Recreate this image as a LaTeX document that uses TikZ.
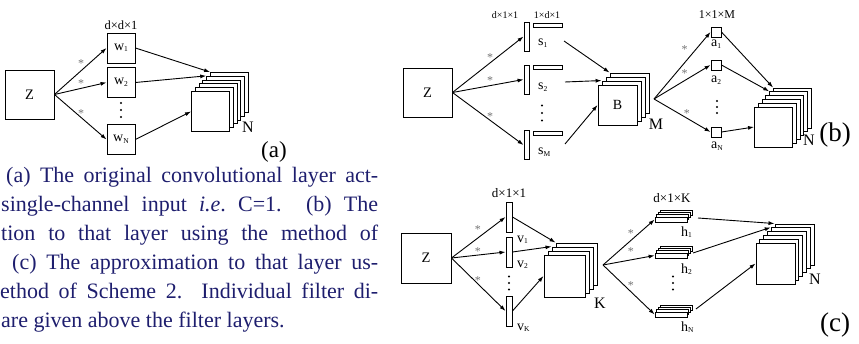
\documentclass[tikz,border=0pt]{standalone}
\usepackage{fontspec}
\setmainfont{Liberation Serif}
\usepackage{tikz}
\usetikzlibrary{arrows.meta,positioning,calc}
\definecolor{capblue}{RGB}{30,30,110}
\newcommand{\filtname}[2]{#1\raisebox{-1.5pt}{\fontsize{7.5}{7.5}\selectfont #2}}

\begin{document}
\begin{tikzpicture}[x=1pt,y=-1pt,
  every node/.style={inner sep=0pt},
  >={Latex[length=6pt,width=4pt]},
  box/.style={draw,line width=0.9pt,minimum width=49pt,minimum height=49pt,font=\fontsize{14.5}{14.5}\selectfont},
  layer/.style={draw,line width=0.9pt,fill=white,minimum width=38pt,minimum height=40pt},
  filt/.style={draw,line width=0.9pt,minimum width=28pt,minimum height=30pt,font=\fontsize{14}{14}\selectfont},
  vbar/.style={draw,line width=0.9pt,minimum width=5pt,minimum height=29pt},
  hbar/.style={draw,line width=0.9pt,minimum width=29pt,minimum height=4pt},
  tap/.style={draw,line width=0.9pt,minimum width=10pt,minimum height=10pt},
  flat/.style={draw,line width=0.7pt,fill=white,minimum width=32pt,minimum height=5pt},
  dimlab/.style={font=\fontsize{12.5}{12.5}\selectfont},
  lab/.style={font=\fontsize{14}{14}\selectfont,anchor=west},
  cnt/.style={font=\fontsize{16}{16}\selectfont},
  conv/.style={font=\fontsize{12}{12}\selectfont,text=black!55},
  panel/.style={font=\fontsize{27}{27}\selectfont},
  caption/.style={font=\fontsize{22}{26}\selectfont,text=capblue,anchor=base west},
  wire/.style={->,line width=0.9pt}]
\useasboundingbox (0,0) rectangle (859,344);

% (a) original layer
\node[box] (za) at (29.5,94.5) {Z};
\foreach \n/\y in {1/48, 2/82.5, N/139.5}
  \node[filt] (wa\n) at (121,\y) {\filtname{w}{\n}};
\node[dimlab] (da) at (121,25) {d×d×1};
\coordinate (dta) at (121,110);
\foreach \d in {-7,0,7} \fill (dta) ++(0,\d) circle (1.1);
\foreach \i in {5,...,0}
  \node[layer] (na-\i) at (210.5+3.8*\i,111.5-3.8*\i) {};
\node[cnt] (nla) at (248,127) {N};
\node[panel,font=\fontsize{23}{23}\selectfont] (pa) at (274,152) {(a)};
\draw[wire] (za.east) -- node[conv,pos=.51,above=3pt] (ca1) {*} (wa1.west);
\draw[wire] (za.east) -- node[conv,pos=.51,above=0.7pt] (ca2) {*} (wa2.west);
\draw[wire] (za.east) -- node[conv,pos=.51,above=-1pt] (ca3) {*} (waN.west);
\draw[wire] (wa1.east) -- (na-5.north west);
\draw[wire] (wa2.east) -- (na-4.north west);
\draw[wire] (waN.east) -- (na-0.west);

% (b) scheme 1
\node[box] (zb) at (427.5,92.5) {Z};
\foreach \n/\y in {1/36.5, 2/79.5, M/145}
  \node[vbar] (vb\n) at (526.5,\y) {};
\foreach \n/\y in {1/25, 2/67.5, M/133}
  \node[hbar] (hb\n) at (547.5,\y) {};
\foreach \n/\y in {1/43, 2/87, M/152}
  \node[lab] (sb\n) at (538,\y) {\filtname{s}{\n}};
\node[dimlab,font=\fontsize{10}{10}\selectfont] (db1) at (505,15) {d×1×1};
\node[dimlab,font=\fontsize{10}{10}\selectfont] (db2) at (547,15) {1×d×1};
\node[dimlab,font=\fontsize{12}{12}\selectfont] (db3) at (717,15) {1×1×M};
\coordinate (dtb1) at (542,113);
\foreach \d in {-7.5,0,7.5} \fill (dtb1) ++(0,\d) circle (1.1);
\foreach \i in {3,...,0}
  \node[layer,minimum width=39pt] (bb-\i) at (617.5+4*\i,105-4*\i) {};
\node[font=\fontsize{14}{14}\selectfont] (bt) at (bb-0.center) {B};
\node[cnt] (mlb) at (656,124) {M};
\foreach \n/\y in {1/32, 2/65, N/132}
  \node[tap] (ab\n) at (716,\y) {};
\foreach \n/\y in {1/44, 2/80, N/146}
  \node[lab] (al\n) at (711,\y) {\filtname{a}{\n}};
\coordinate (dtb2) at (717,107);
\foreach \d in {-6,0,6} \fill (dtb2) ++(0,\d) circle (1.1);
\foreach \i in {5,...,0}
  \node[layer] (nb-\i) at (773.5+3.8*\i,127-3.8*\i) {};
\node[cnt] (nlb) at (809,140) {N};
\node[panel] (pb) at (835,135) {(b)};
\coordinate (ob1) at (564,41);
\coordinate (ob2) at (565,82);
\coordinate (obM) at (565,144);
\coordinate (fb) at (654,99);
\draw[wire] (zb.east) -- node[conv,pos=.53,above=0.5pt] (cb1) {*} (vb1.west);
\draw[wire] (zb.east) -- node[conv,pos=.53,above=0.3pt] (cb2) {*} (vb2.west);
\draw[wire] (zb.east) -- node[conv,pos=.53,above=-1pt] (cb3) {*} (vbM.west);
\draw[wire] (ob1) -- (bb-3.north west);
\draw[wire] (ob2) -- (bb-1.north west);
\draw[wire] (obM) -- (bb-0.west);
\draw[wire] (fb) -- node[conv,pos=.54,above=9pt] (cb4) {*} (ab1.west);
\draw[wire] (fb) -- node[conv,pos=.54,above=3pt] (cb5) {*} (ab2.west);
\draw[wire] (fb) -- node[conv,pos=.58,above=0.5pt] (cb6) {*} (abN.west);
\draw[wire] (ab1.east) -- (nb-5.north west);
\draw[wire] (ab2.east) -- (nb-4.north west);
\draw[wire] (abN.east) -- (nb-0.west);

% (c) scheme 2
\node[box,minimum width=50pt,minimum height=50pt] (zc) at (426,258) {Z};
\foreach \n/\y in {1/217, 2/252, K/311}
  \node[vbar,minimum width=6pt,minimum height=30pt] (vc\n) at (509,\y) {};
\foreach \n/\y in {1/240, 2/265, K/328}
  \node[lab] (vl\n) at (517,\y) {\filtname{v}{\n}};
\node[dimlab,font=\fontsize{13}{13}\selectfont] (dc1) at (509,193) {d×1×1};
\coordinate (dtc1) at (509,283);
\foreach \d in {-6.5,0,6.5} \fill (dtc1) ++(0,\d) circle (1.1);
\foreach \i in {3,...,0}
  \node[layer,minimum width=41pt,minimum height=42pt] (kc-\i) at (564.5+4*\i,276-4*\i) {};
\node[cnt] (klc) at (600,303) {K};
\foreach \n/\y in {1/219.5, 2/255.5, N/314.5}
  \foreach \i in {3,...,0}
    \node[flat] (hc\n-\i) at (671+1.7*\i,\y-2.3*\i) {};
\foreach \n/\y in {1/232, 2/269, N/327}
  \node[lab] (hl\n) at (681,\y) {\filtname{h}{\n}};
\node[dimlab,font=\fontsize{13}{13}\selectfont] (dc2) at (672,198) {d×1×K};
\coordinate (dtc2) at (673,283);
\foreach \d in {-6.5,0,6.5} \fill (dtc2) ++(0,\d) circle (1.1);
\foreach \i in {5,...,0}
  \node[layer,minimum width=39pt,minimum height=41pt] (nc-\i) at (775.5+3.8*\i,263.5-3.8*\i) {};
\node[cnt] (nlc) at (815,279) {N};
\node[panel] (pc) at (835,325) {(c)};
\coordinate (fc) at (603,265);
\coordinate (oc1) at (698,218);
\coordinate (oc2) at (693,253);
\coordinate (ocN) at (696,309);
\draw[wire] (zc.east) -- node[conv,pos=.49,above=4pt] (cc1) {*} (vc1.west);
\draw[wire] (zc.east) -- node[conv,pos=.49,above=-1pt] (cc2) {*} (vc2.west);
\draw[wire] (zc.east) -- node[conv,pos=.49,above=-0.5pt] (cc3) {*} (vcK.west);
\draw[wire] (vc1.east) -- (kc-3.north west);
\draw[wire] (vc2.east) -- (kc-2.north west);
\draw[wire] (vcK.east) -- (kc-0.west);
\draw[wire] (fc) -- node[conv,pos=.54,above=2.7pt] (cc4) {*} (hc1-0.west);
\draw[wire] (fc) -- node[conv,pos=.54,above=4pt] (cc5) {*} (hc2-0.west);
\draw[wire] (fc) -- node[conv,pos=.54,above=2pt] (cc6) {*} (hcN-0.west);
\draw[wire] (oc1) -- (nc-5.north west);
\draw[wire] (oc2) -- (nc-4.north west);
\draw[wire] (ocN) -- (nc-0.west);

% caption (cut off at the left)
\node[caption] (cap1) at (6,183) {\makebox[372pt][s]{(a) The original convolutional layer act-}};
\node[caption] (cap2) at (1,212) {\makebox[377pt][s]{single-channel input \textit{i.e}.\ C=1.\ \ (b) The}};
\node[caption] (cap3) at (1,241) {\makebox[377pt][s]{tion to that layer using the method of}};
\node[caption] (cap4) at (12,270) {\makebox[366pt][s]{(c) The approximation to that layer us-}};
\node[caption] (cap5) at (0,299) {\makebox[378pt][s]{ethod of Scheme 2.\ \ Individual filter di-}};
\node[caption] (cap6) at (1,328) {are given above the filter layers.};
\end{tikzpicture}
\end{document}
